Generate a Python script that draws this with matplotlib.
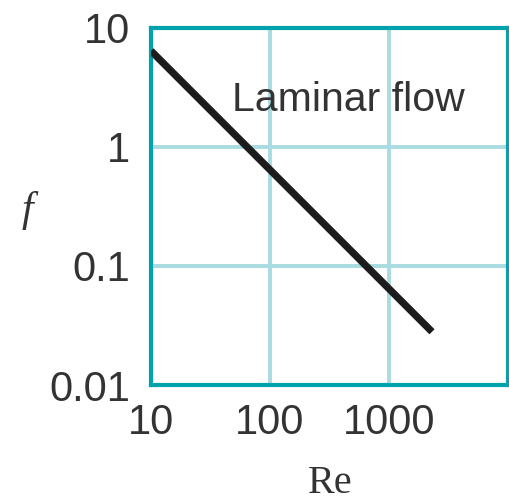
import numpy as np
import matplotlib
matplotlib.use("Agg")
import matplotlib.pyplot as plt

# laminar friction factor line (f = 64/Re)
re_pts = [10, 2300]
f_pts = [6.4, 0.028]

x_ticks = [10, 100, 1000]
x_labels = ['10', '100', '1000']
y_ticks = [0.01, 0.1, 1, 10]
y_labels = ['0.01', '0.1', '1', '10']

frame_col = '#00a3ad'
grid_col = '#a9dce0'
txt_col = '#333333'

plt.rcParams['font.family'] = ['Liberation Sans', 'DejaVu Sans']

fig = plt.figure(figsize=(5.10, 5.04), dpi=100)
ax = fig.add_axes([0.296, 0.236, 0.700, 0.709])

ax.set_xscale('log')
ax.set_yscale('log')
ax.set_xlim(10, 10000)
ax.set_ylim(0.01, 10)

ax.plot(re_pts, f_pts, color='#1c1c1c', lw=5.2, solid_capstyle='butt', zorder=3)

ax.set_xticks(x_ticks)
ax.set_xticklabels(x_labels)
ax.set_yticks(y_ticks)
ax.set_yticklabels(y_labels)
ax.minorticks_off()
ax.tick_params(length=0, labelsize=30, labelcolor=txt_col)
ax.tick_params(axis='x', pad=13)
ax.tick_params(axis='y', pad=15)

ax.grid(True, color=grid_col, lw=2.8)
ax.set_axisbelow(True)
for sp in ax.spines.values():
    sp.set_color(frame_col)
    sp.set_linewidth(3)

ax.text(0.226, 0.768, 'Laminar flow', transform=ax.transAxes, fontsize=29.5,
        color=txt_col, va='baseline')

fig.text(330 / 510, 0.003, 'Re', fontsize=29, family='Liberation Serif',
         color=txt_col, ha='center', va='bottom')
fig.text(27 / 510, 1 - 210 / 504, 'f', fontsize=30, family='Liberation Serif',
         style='italic', color=txt_col, ha='center', va='center')

fig.savefig('out.png', dpi=100)
